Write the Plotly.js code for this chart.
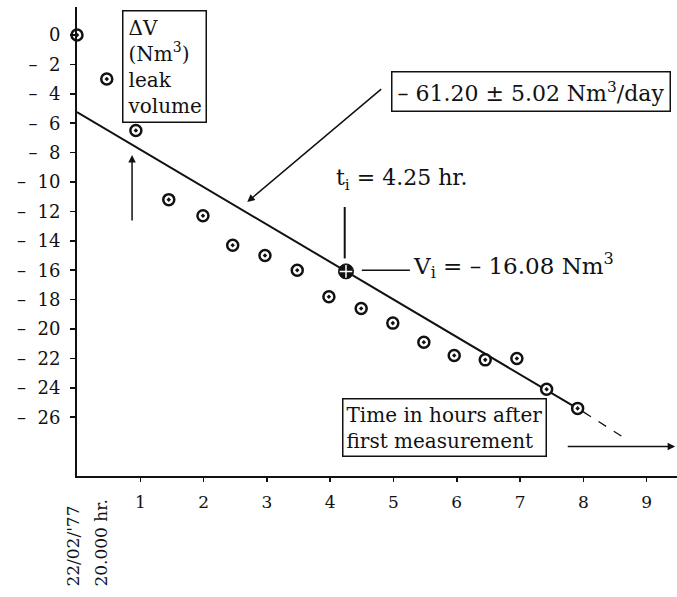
<!DOCTYPE html>
<html>
<head>
<meta charset="utf-8">
<script src="https://cdn.plot.ly/plotly-3.0.1.min.js"></script>
<style>html,body{margin:0;padding:0;background:#fff;}#chart{width:677px;height:597px;}</style>
</head>
<body>
<div id="chart"></div>
<script>
// measured leak volume (Nm3) vs time in hours after first measurement
const timeHours = [0, 0.47, 0.93, 1.45, 1.99, 2.46, 2.97, 3.48, 3.98, 4.49, 4.99, 5.48, 5.96, 6.45, 6.95, 7.42, 7.91];
const leakVolume = [0, -3.0, -6.5, -11.2, -12.3, -14.3, -15.0, -16.0, -17.8, -18.6, -19.6, -20.9, -21.8, -22.1, -22.0, -24.1, -25.4];
// fitted line (solid) and extrapolation (dashed)
const fitX = [0, 8];
const fitY = [-5.24, -25.64];
const extX = [8, 8.7];
const extY = [-25.64, -27.55];
// reference point t_i, V_i
const refX = [4.25];
const refY = [-16.08];
// ticks
const yTickVals = [0, -2, -4, -6, -8, -10, -12, -14, -16, -18, -20, -22, -24, -26];
const yTickText = ["0", "–\u00a0\u00a02", "–\u00a0\u00a04", "–\u00a0\u00a06", "–\u00a0\u00a08", "–\u00a0\u00a010", "–\u00a0\u00a012", "–\u00a0\u00a014", "–\u00a0\u00a016", "–\u00a0\u00a018", "–\u00a0\u00a020", "–\u00a0\u00a022", "–\u00a0\u00a024", "–\u00a0\u00a026"];
const xTickVals = [1, 2, 3, 4, 5, 6, 7, 8, 9];
const xTickText = ["1", "2", "3", "4", "5", "6", "7", "8", "9"];

const serif = "DejaVu Serif, serif";
const ink = "#111";

const traces = [
  {x: fitX, y: fitY, mode: "lines", line: {color: ink, width: 2}, hoverinfo: "skip"},
  {x: extX, y: extY, mode: "lines", line: {color: ink, width: 1.3, dash: "dash"}, hoverinfo: "skip"},
  {x: timeHours, y: leakVolume, mode: "markers", cliponaxis: false,
   marker: {symbol: "circle-dot", size: 11, color: "#fff", line: {color: ink, width: 2.5}}},
  {x: refX, y: refY, mode: "markers", cliponaxis: false,
   marker: {symbol: "circle", size: 15, color: ink, line: {color: ink, width: 1}}},
  {x: refX, y: refY, mode: "markers", cliponaxis: false,
   marker: {symbol: "cross-thin-open", size: 9, color: "#fff", line: {color: "#fff", width: 1.5}}}
];

const layout = {
  width: 677, height: 597,
  margin: {l: 77, r: 0, t: 7, b: 121},
  paper_bgcolor: "#fff", plot_bgcolor: "#fff",
  showlegend: false,
  font: {family: serif, color: ink, size: 18},
  xaxis: {
    range: [0, 9.48], showgrid: false, zeroline: false,
    showline: true, linecolor: ink, linewidth: 2,
    ticks: "outside", ticklen: 4, tickwidth: 1.5, tickcolor: ink,
    tickvals: xTickVals, ticktext: xTickText,
    tickfont: {family: serif, size: 17, color: ink}, ticklabelstandoff: 6
  },
  yaxis: {
    range: [-30.0, 1.905], showgrid: false, zeroline: false,
    showline: true, linecolor: ink, linewidth: 2,
    ticks: "outside", ticklen: 5, tickwidth: 1.5, tickcolor: ink,
    tickvals: yTickVals, ticktext: yTickText,
    tickfont: {family: serif, size: 18, color: ink}, ticklabelstandoff: 6
  },
  shapes: [
    {type: "line", xref: "x", yref: "y", x0: 4.23, x1: 4.23, y0: -11.7, y1: -15.2, line: {color: ink, width: 2}},
    {type: "line", xref: "x", yref: "y", x0: 4.5, x1: 5.26, y0: -16.0, y1: -16.0, line: {color: ink, width: 1.5}}
  ],
  annotations: [
    {xref: "x", yref: "y", x: 1.39, y: 1.70, xanchor: "center", yanchor: "top", align: "left",
     text: "ΔV<br>(Nm<sup>3</sup>)<br>leak<br>volume", showarrow: false,
     font: {family: serif, size: 20, color: ink},
     bordercolor: ink, borderwidth: 1.5, borderpad: 4, bgcolor: "#fff"},
    {xref: "x", yref: "y", x: 7.17, y: -3.81, xanchor: "center", yanchor: "middle",
     text: "– 61.20 ± 5.02 Nm<sup>3</sup>/day", showarrow: false,
     font: {family: serif, size: 22, color: ink},
     bordercolor: ink, borderwidth: 1.5, borderpad: 5, bgcolor: "#fff"},
    {xref: "x", yref: "y", axref: "x", ayref: "y", x: 2.69, y: -11.36, ax: 4.83, ay: -3.6,
     text: "", showarrow: true, arrowhead: 2, arrowsize: 1, arrowwidth: 1.5, arrowcolor: ink},
    {xref: "x", yref: "y", axref: "x", ayref: "y", x: 0.87, y: -8.16, ax: 0.87, ay: -12.72,
     text: "", showarrow: true, arrowhead: 2, arrowsize: 1, arrowwidth: 1.5, arrowcolor: ink},
    {xref: "x", yref: "y", x: 5.12, y: -9.86, xanchor: "center", yanchor: "middle",
     text: "t<sub>i</sub> = 4.25 hr.", showarrow: false,
     font: {family: serif, size: 22, color: ink}},
    {xref: "x", yref: "y", x: 5.28, y: -15.7, xanchor: "left", yanchor: "middle",
     text: "V<sub>i</sub> = – 16.08 Nm<sup>3</sup>", showarrow: false,
     font: {family: serif, size: 23, color: ink}},
    {xref: "x", yref: "y", x: 5.81, y: -26.7, xanchor: "center", yanchor: "middle", align: "left",
     text: "Time in hours after<br>first measurement", showarrow: false,
     font: {family: serif, size: 20, color: ink},
     bordercolor: ink, borderwidth: 1.5, borderpad: 3, bgcolor: "#fff"},
    {xref: "x", yref: "y", axref: "x", ayref: "y", x: 9.45, y: -28.0, ax: 7.73, ay: -28.0,
     text: "", showarrow: true, arrowhead: 2, arrowsize: 1, arrowwidth: 1.5, arrowcolor: ink},
    {xref: "paper", yref: "paper", x: -0.0067, y: -0.239, xanchor: "center", yanchor: "bottom",
     textangle: -90, text: "22/02/'77", showarrow: false,
     font: {family: serif, size: 17, color: ink}},
    {xref: "paper", yref: "paper", x: 0.0408, y: -0.239, xanchor: "center", yanchor: "bottom",
     textangle: -90, text: "20.000 hr.", showarrow: false,
     font: {family: serif, size: 17, color: ink}}
  ]
};

Plotly.newPlot("chart", traces, layout, {displayModeBar: false, staticPlot: true});
</script>
</body>
</html>
